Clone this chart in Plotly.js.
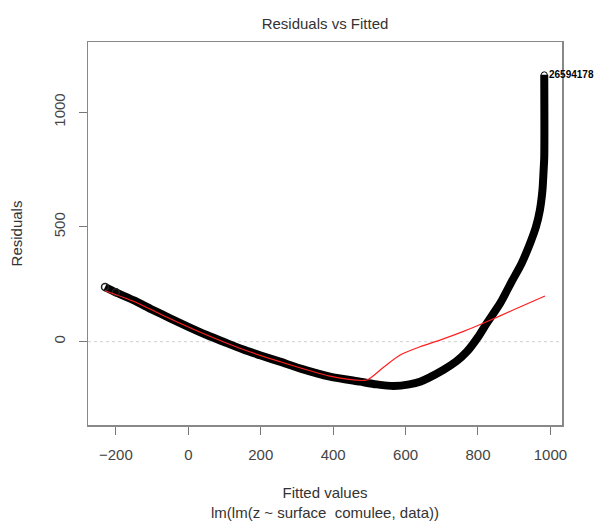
<!DOCTYPE html>
<html>
<head>
<meta charset="utf-8">
<script src="https://cdn.plot.ly/plotly-3.0.1.min.js"></script>
<style>html,body{margin:0;padding:0;background:#fff;}#chart{width:603px;height:525px;}</style>
</head>
<body>
<div id="chart"></div>
<script>
// Black residual points (fitted value, residual)
const fittedPts = [-230, -200, -150, -100, -50, 0, 51, 100, 150, 200, 253, 308, 391, 474, 520, 567, 610, 640, 704, 740, 769, 800, 824, 861, 893, 920, 944, 960, 971, 978, 981, 983, 983];
const residPts  = [238, 215, 180, 140, 102, 65, 29, -2, -33, -60, -87, -116, -152, -174, -186, -193, -186, -174, -123, -86, -44, 20, 80, 167, 262, 340, 429, 500, 574, 660, 740, 806, 1163];
// Red smoother line
const fittedSmooth = [-230, -150, -50, 51, 150, 253, 391, 493, 540, 585, 640, 695, 760, 824, 900, 985];
const residSmooth  = [222, 175, 100, 29, -33, -87, -150, -167, -110, -58, -22, 7, 45, 87, 140, 199];
// Labelled point
const labelX = [983];
const labelY = [1163];
const labelText = ["26594178"];
const xTicks = [-200, 0, 200, 400, 600, 800, 1000];
const yTicks = [0, 500, 1000];

const font = "Liberation Sans, Arial, sans-serif";
const traces = [
  {x: fittedPts, y: residPts, mode: "lines", type: "scatter",
   line: {color: "#000", width: 8, shape: "spline", smoothing: 0.7}, hoverinfo: "skip"},
  {x: [fittedPts[0], fittedPts[1]], y: [residPts[0], residPts[1]], mode: "markers", type: "scatter",
   marker: {symbol: "circle-open", size: 7, color: "#222", line: {width: 1.5}}},
  {x: labelX, y: labelY, mode: "markers", type: "scatter",
   marker: {symbol: "circle-open", size: 6, color: "#000", line: {width: 1}}},
  {x: fittedSmooth, y: residSmooth, mode: "lines", type: "scatter",
   line: {color: "#ff2020", width: 1.2, shape: "spline", smoothing: 0.6}}
];

const layout = {
  width: 603, height: 525,
  margin: {l: 88, r: 41, t: 42, b: 100},
  showlegend: false,
  paper_bgcolor: "#fff", plot_bgcolor: "#fff",
  font: {family: font, color: "#333", size: 15},
  title: {text: "Residuals vs Fitted", x: 0.5, xref: "paper", y: 0.955, yanchor: "middle",
          font: {family: font, size: 15, color: "#333"}},
  xaxis: {range: [-277, 1032], tickvals: xTicks, ticks: "outside", ticklen: 8, tickcolor: "#777",
          ticklabelstandoff: 7,
          showline: true, mirror: true, linecolor: "#888", linewidth: 1.5, showgrid: false, zeroline: false,
          tickfont: {family: font, size: 15, color: "#444"},
          title: {text: "Fitted values<br>lm(lm(z ~ surface  comulee, data))", standoff: 26,
                  font: {family: font, size: 15, color: "#333"}}},
  yaxis: {range: [-363, 1306], tickvals: yTicks, ticks: "outside", ticklen: 8, tickcolor: "#777",
          tickangle: -90, ticklabelstandoff: 8,
          showline: true, mirror: true, linecolor: "#888", linewidth: 1.5, showgrid: false, zeroline: false,
          tickfont: {family: font, size: 15, color: "#444"},
          title: {text: "Residuals", standoff: 24, font: {family: font, size: 15, color: "#333"}}},
  shapes: [{type: "line", xref: "paper", x0: 0, x1: 1, yref: "y", y0: 0, y1: 0,
            line: {color: "#cfcfcf", width: 1, dash: "dot"}, layer: "below"}],
  annotations: [{x: labelX[0], y: labelY[0], text: "<b>" + labelText[0] + "</b>", showarrow: false,
                 xanchor: "left", yanchor: "middle", xshift: 3,
                 font: {family: font, size: 10, color: "#000"}}]
};
Plotly.newPlot("chart", traces, layout, {displayModeBar: false, staticPlot: true});
</script>
</body>
</html>
